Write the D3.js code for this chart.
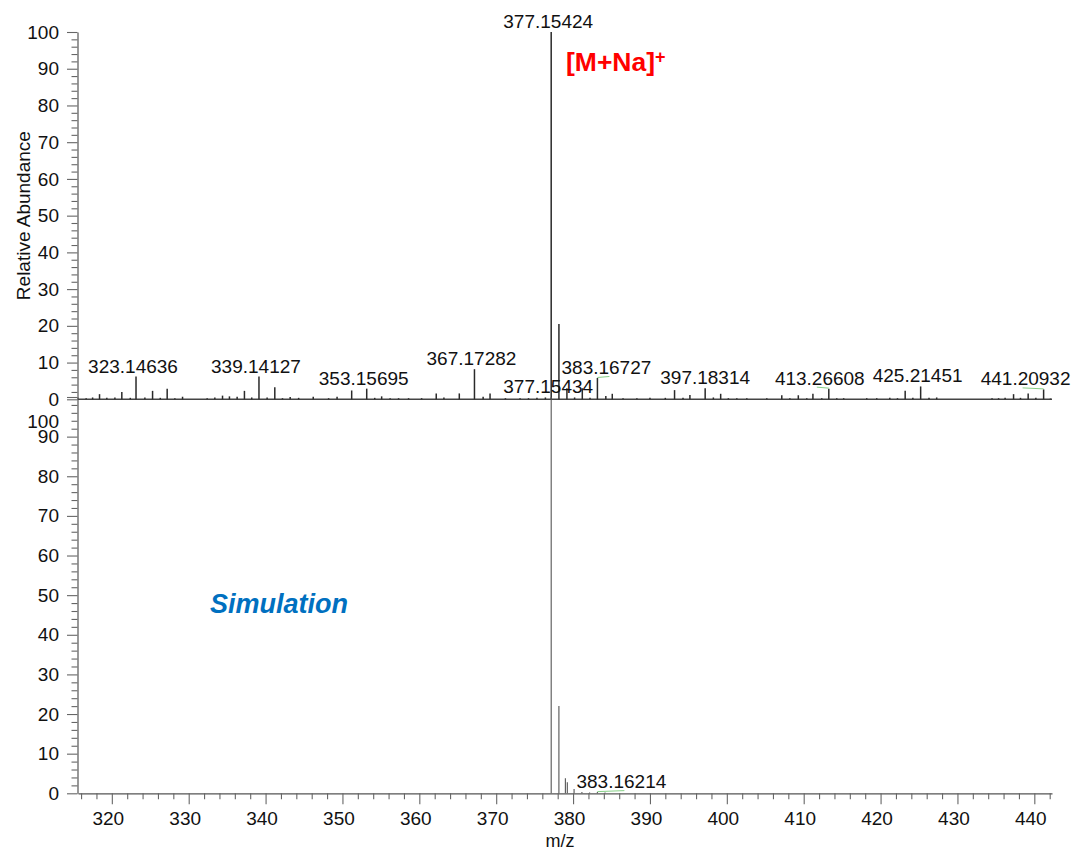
<!DOCTYPE html>
<html>
<head>
<meta charset="utf-8">
<script src="https://cdn.jsdelivr.net/npm/d3@7"></script>
<style>
  html, body { margin: 0; padding: 0; background: #fff; }
  svg { display: block; font-family: "Liberation Sans", Arial, sans-serif; }
</style>
</head>
<body>
<svg id="chart" width="1077" height="853"></svg>
<script>
// Measured spectrum (m/z, relative abundance %)
const measuredMz = [316.66, 317.5, 318.4, 319.35, 320.4, 321.3, 322.4, 323.14636, 324.3, 325.3,
  326.3, 327.2, 328.2, 329.2, 332.4, 333.4, 334.4, 335.3, 336.3, 337.25,
  338.2, 339.14127, 340.2, 341.2, 342.2, 343.2, 344.3, 346.2, 348.2, 349.3,
  351.2, 353.15695, 354.2, 355.1, 356.2, 357.3, 358.6, 360.3, 362.2, 363.2,
  365.2, 367.17282, 368.3, 369.2, 371.2, 373.1, 374.2, 375.3, 376.4, 377.15424,
  378.16, 379.2, 380.2, 381.2, 382.2, 383.16727, 384.26, 385.1, 386.5, 388.3,
  390.0, 392.0, 393.2, 394.3, 395.2, 397.18314, 398.25, 399.2, 400.2, 401.3,
  402.6, 405.2, 407.15, 408.2, 409.3, 410.4, 411.2, 412.35, 413.26608, 414.3,
  415.2, 418.2, 419.5, 421.2, 422.2, 423.2, 424.2, 425.21451, 426.3, 427.3,
  434.5, 435.35, 436.2, 437.3, 438.2, 439.2, 440.2, 441.20932, 442.1];
const measuredAbundance = [0.3, 0.5, 1.4, 0.4, 0.5, 2.0, 0.4, 6.2, 0.5, 2.3,
  0.4, 2.9, 0.3, 0.7, 0.3, 0.5, 1.0, 0.8, 0.7, 2.3,
  0.5, 6.2, 0.5, 3.3, 0.3, 0.6, 0.4, 0.7, 0.3, 0.7,
  2.4, 2.9, 0.4, 0.8, 0.3, 0.3, 0.3, 0.3, 1.6, 0.5,
  1.6, 8.2, 0.7, 1.6, 0.3, 0.3, 0.3, 0.4, 0.5, 100,
  20.5, 3.0, 0.5, 3.0, 0.4, 5.8, 0.9, 1.5, 0.3, 0.3,
  0.4, 0.4, 2.5, 0.4, 1.2, 3.0, 0.5, 1.5, 0.3, 0.3,
  0.3, 0.3, 1.1, 0.3, 1.1, 0.3, 1.5, 0.3, 2.9, 0.3,
  0.3, 0.3, 0.3, 0.4, 0.3, 2.3, 0.4, 3.5, 0.4, 0.5,
  0.3, 0.3, 0.4, 1.4, 0.4, 1.6, 0.4, 2.7, 0.2];
const measuredLabelMz = [323.14636, 339.14127, 353.15695, 367.17282, 377.15424,
  383.16727, 397.18314, 413.26608, 425.21451, 441.20932];

// Simulated isotope pattern
const simulatedMz = [377.15434, 378.157, 379.0, 379.25, 380.13, 381.15, 382.15, 383.16214, 384.16];
const simulatedAbundance = [100, 22, 3.8, 2.8, 1.1, 0.3, 0.2, 0.3, 0.2];
const simulatedLabelMz = [377.15434, 383.16214];

// Axis ticks
const xTickValues = d3.range(316, 443, 2);
const yTickValues = d3.range(0, 101, 2);
const xTitle = "m/z";
const yTitle = "Relative Abundance";
const ionTitle = "[M+Na]";
const simTitle = "Simulation";

const W = 1077, H = 853;
const FONT = '"Liberation Sans", Arial, sans-serif';
const TICK_FS = 19;
const svg = d3.select("#chart");

const x = d3.scaleLinear().domain([315.6, 442.3]).range([78, 1052]);
const yTop = d3.scaleLinear().domain([0, 100]).range([399.3, 32]);
const yBot = d3.scaleLinear().domain([0, 100]).range([793.3, 397]);

function styleAxis(g) {
  g.attr("font-family", FONT).attr("font-size", TICK_FS);
  g.select(".domain").attr("stroke", "#555").attr("stroke-width", 1.2);
  g.selectAll(".tick text").attr("fill", "#111");
}

function drawYAxis(scale) {
  const g = svg.append("g")
    .attr("transform", `translate(${x.range()[0] - 0.5},0)`)
    .call(d3.axisLeft(scale).tickValues(yTickValues)
      .tickFormat(d => d % 10 === 0 ? d : "")
      .tickSize(10.5).tickPadding(8).tickSizeOuter(0));
  g.selectAll(".tick line")
    .attr("x2", d => d % 10 === 0 ? -10.5 : -6)
    .attr("stroke", "#666").attr("stroke-width", 1.1);
  styleAxis(g);
  return g;
}

// ---- axes ----
drawYAxis(yTop);
const yBotAxis = drawYAxis(yBot);
// the lower panel's top label sits inside its own panel, below the upper panel's "0"
yBotAxis.selectAll(".tick text").filter(d => d === 100).attr("transform", "translate(0,24)");

const xAxisG = svg.append("g")
  .attr("transform", `translate(0,${yBot(0)})`)
  .call(d3.axisBottom(x).tickValues(xTickValues)
    .tickFormat(d => d % 10 === 0 ? d : "")
    .tickSize(11).tickPadding(7).tickSizeOuter(0));
xAxisG.selectAll(".tick line")
  .attr("y2", d => d % 10 === 0 ? 11 : 6)
  .attr("stroke", "#666").attr("stroke-width", 1.1);
xAxisG.selectAll(".tick text").attr("dx", -4);
styleAxis(xAxisG);

// baseline of the measured trace
svg.append("line")
  .attr("x1", x.range()[0]).attr("x2", x.range()[1])
  .attr("y1", yTop(0)).attr("y2", yTop(0))
  .attr("stroke", "#444").attr("stroke-width", 1.6);

// axis titles
svg.append("text")
  .attr("transform", `translate(30,${(yTop(0) + yTop(100)) / 2}) rotate(-90)`)
  .attr("text-anchor", "middle")
  .attr("font-family", FONT).attr("font-size", 19).attr("fill", "#111")
  .text(yTitle);

svg.append("text")
  .attr("x", (x.range()[0] + x.range()[1]) / 2 - 5)
  .attr("y", 847)
  .attr("text-anchor", "middle")
  .attr("font-family", FONT).attr("font-size", 18).attr("fill", "#111")
  .text(xTitle);

// ---- peaks ----
function drawSticks(mzs, vals, yScale, color, width) {
  svg.append("g").selectAll("line")
    .data(mzs.map((m, i) => ({ m, v: vals[i] })))
    .join("line")
    .attr("x1", d => x(d.m)).attr("x2", d => x(d.m))
    .attr("y1", yScale(0)).attr("y2", d => yScale(d.v))
    .attr("stroke", color).attr("stroke-width", width);
}

drawSticks(measuredMz, measuredAbundance, yTop, "#2a2a2a", 1.5);
drawSticks(simulatedMz, simulatedAbundance, yBot, "#555", 1.1);

// ---- peak labels: centred above the peak, nudged sideways to clear peaks and other labels ----
function placeLabels(mzs, vals, labelMz, yScale) {
  const layer = svg.append("g").attr("font-family", FONT);
  const peaks = mzs.map((m, i) => ({ m, v: vals[i], px: x(m), py: yScale(vals[i]) }));
  const targets = labelMz.map(m => peaks.find(p => p.m === m)).sort((a, b) => b.v - a.v);
  const boxes = [];
  const fs = 19;
  targets.forEach(t => {
    const text = layer.append("text")
      .attr("font-size", fs).attr("fill", "#111").attr("text-anchor", "middle")
      .text(d3.format(".5f")(t.m));
    const w = text.node().getComputedTextLength();
    const base = t.py - 4, top = base - fs * 0.72;
    const boxAt = cx => ({ x0: cx - w / 2, x1: cx + w / 2, y0: top, y1: base });
    const hits = b => {
      if (b.x0 < 2 || b.x1 > W - 6) return true;
      if (peaks.some(p => p !== t && p.px >= b.x0 - 2 && p.px <= b.x1 + 2 && p.py <= b.y1 + 2)) return true;
      return boxes.some(o => b.x0 < o.x1 + 8 && b.x1 > o.x0 - 8 && b.y0 < o.y1 + 2 && b.y1 > o.y0 - 2);
    };
    const start = t.px - 3;
    let cx = start;
    for (let d = 0; d < 250; d++) {
      if (!hits(boxAt(start + d))) { cx = start + d; break; }
      if (!hits(boxAt(start - d))) { cx = start - d; break; }
    }
    boxes.push(boxAt(cx));
    text.attr("x", cx).attr("y", base);
    if (Math.abs(cx - t.px) > 5) {
      layer.append("line")
        .attr("x1", t.px).attr("y1", t.py - 0.5)
        .attr("x2", cx + (cx > t.px ? 3 : -3)).attr("y2", base + 2.5)
        .attr("stroke", "#86cf86").attr("stroke-width", 1);
    }
  });
}

placeLabels(measuredMz, measuredAbundance, measuredLabelMz, yTop);
placeLabels(simulatedMz, simulatedAbundance, simulatedLabelMz, yBot);

// ---- panel annotations ----
const ion = svg.append("text")
  .attr("x", x(379.08)).attr("y", yTop(89.4))
  .attr("font-family", FONT).attr("font-size", 26.5).attr("font-weight", "bold")
  .attr("fill", "#ff0000");
ion.append("tspan").text(ionTitle);
ion.append("tspan").attr("font-size", 18).attr("dy", -8).text("+");

svg.append("text")
  .attr("x", x(332.77)).attr("y", yBot(45.5))
  .attr("font-family", FONT).attr("font-size", 27).attr("font-weight", "bold")
  .attr("font-style", "italic").attr("fill", "#0070c0")
  .text(simTitle);
</script>
</body>
</html>
